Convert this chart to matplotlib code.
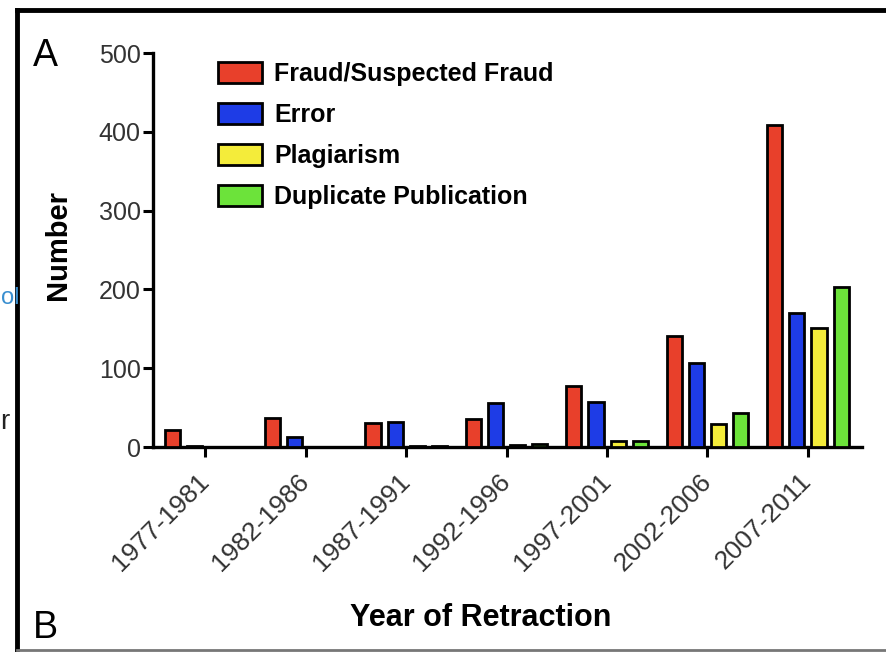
import matplotlib
matplotlib.use("Agg")
import matplotlib.pyplot as plt
import numpy as np
from matplotlib.lines import Line2D

plt.rcParams['font.family'] = ['Liberation Sans', 'DejaVu Sans']

periods = ["1977-1981", "1982-1986", "1987-1991", "1992-1996",
           "1997-2001", "2002-2006", "2007-2011"]
fraud = [22, 37, 30, 35, 77, 141, 409]
error = [1, 13, 32, 56, 57, 107, 170]
plagiarism = [0, 0, 1, 3, 8, 29, 151]
duplicate = [0, 0, 1, 4, 7, 43, 203]
series_names = ["Fraud/Suspected Fraud", "Error", "Plagiarism", "Duplicate Publication"]
colors = ["#E8402B", "#1E3CE6", "#F4EC3A", "#6CE33A"]
yticks = [0, 100, 200, 300, 400, 500]

fig = plt.figure(figsize=(8.87, 6.52), dpi=100)
ax = fig.add_axes([0.1725, 0.3144, 0.7995, 0.6043])

x = np.arange(len(periods))
step = 0.22
width = 0.15
series = [fraud, error, plagiarism, duplicate]
for i, (vals, name, c) in enumerate(zip(series, series_names, colors)):
    ax.bar(x + (i - 1.5) * step, vals, width=width, color=c,
           edgecolor="black", linewidth=2, label=name, zorder=3)

ax.set_xlim(-0.52, 6.54)
ax.set_ylim(0, 500)
ax.set_yticks(yticks)
ax.set_yticklabels([str(t) for t in yticks], fontsize=18, color="#333333")
ax.set_xticks(x)
ax.set_xticklabels(periods, rotation=45, ha="right", va="center",
                   rotation_mode="anchor", fontsize=19, color="#333333")
for s in ["top", "right"]:
    ax.spines[s].set_visible(False)
for s in ["left", "bottom"]:
    ax.spines[s].set_linewidth(2.4)
ax.tick_params(axis="both", width=2.2, length=7, direction="out", pad=2)
ax.tick_params(axis="x", pad=15)

ax.set_ylabel("Number", fontsize=21, fontweight="bold", va="center")
ax.yaxis.set_label_coords(-0.134, 0.513)
ax.set_xlabel("Year of Retraction", fontsize=22, fontweight="bold", va="center")
ax.xaxis.set_label_coords(0.4626, -0.433)

leg = ax.legend(loc="upper left", bbox_to_anchor=(0.060, 1.035), frameon=False,
                prop={"weight": "bold", "size": 18},
                handlelength=1.75, handleheight=0.92, handletextpad=0.5,
                labelspacing=0.68, borderpad=0.4)
for h in leg.legend_handles:
    h.set_linewidth(2)

# panel frame and labels
fig.add_artist(Line2D([17 / 887, 1.0], [1 - 10 / 652, 1 - 10 / 652],
                      transform=fig.transFigure, color="black", linewidth=3.5))
fig.add_artist(Line2D([17 / 887, 17 / 887], [1 - 10 / 652, 0.0],
                      transform=fig.transFigure, color="black", linewidth=3.5))
fig.add_artist(Line2D([17 / 887, 1.0], [2 / 652, 2 / 652],
                      transform=fig.transFigure, color="#777777", linewidth=2))
fig.text(33 / 887, 1 - 56 / 652, "A", fontsize=27, va="center", ha="left")
fig.text(33 / 887, 1 - 628 / 652, "B", fontsize=27, va="center", ha="left")
fig.text(0.5 / 887, 1 - 298 / 652, "ol", fontsize=17, va="center", ha="left",
         color="#3A8FD0")
fig.text(0.5 / 887, 1 - 422 / 652, "r", fontsize=20, va="center", ha="left",
         color="#222222")

fig.savefig("out.png", dpi=100)
